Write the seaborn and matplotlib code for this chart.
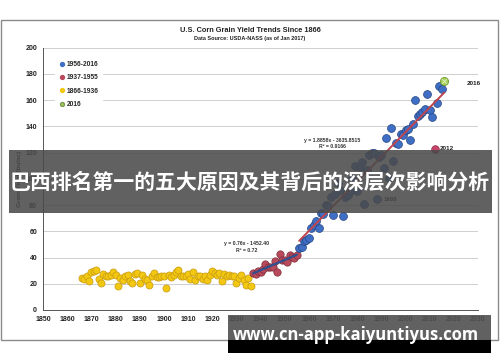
import numpy as np
import pandas as pd
import seaborn as sns
import matplotlib.pyplot as plt
from matplotlib.lines import Line2D
from matplotlib.patches import Rectangle

# yields (bu/ac)
years_early = list(range(1866, 1937))
yield_early = [24.3, 23.6, 26.2, 21.8, 29.3, 29.8, 30.2, 23.8, 20.9, 27.7,
               26.3, 26.1, 26.5, 28.9, 26.8, 18.6, 24.6, 22.7, 25.8, 26.5,
               22.0, 20.3, 27.1, 27.9, 20.7, 27.0, 23.5, 22.5, 19.4, 26.2,
               28.2, 25.3, 25.2, 25.9, 25.9, 16.7, 26.8, 25.0, 26.8, 28.6,
               30.3, 25.9, 26.2, 25.9, 27.7, 23.9, 29.2, 23.1, 25.8, 25.6,
               24.0, 26.3, 23.1, 27.0, 29.8, 28.3, 27.0, 28.3, 22.2, 27.4,
               25.6, 26.8, 26.3, 25.7, 20.5, 24.5, 26.5, 22.6, 18.7, 24.2,
               18.1]
years_mid = list(range(1937, 1956))
yield_mid = [28.2, 27.7, 29.4, 28.9, 31.2, 35.4, 32.6, 33.0, 33.1, 37.2,
             28.6, 43.0, 38.2, 38.2, 36.9, 41.8, 40.7, 39.4, 42.0]
years_late = list(range(1956, 2017))
yield_late = [47.4, 48.3, 52.8, 53.1, 54.7, 62.4, 64.7, 67.9, 62.9, 74.1,
              73.1, 80.1, 79.5, 85.9, 72.4, 88.1, 97.0, 91.3, 71.9, 86.4,
              88.0, 90.8, 101.0, 109.5, 91.0, 108.9, 113.2, 81.1, 106.7, 118.0,
              119.4, 119.8, 84.6, 116.3, 118.5, 108.6, 131.5, 100.7, 138.6, 113.5,
              127.1, 126.7, 134.4, 133.8, 136.9, 138.2, 129.3, 142.2, 160.3, 147.9,
              149.1, 150.7, 153.3, 164.4, 152.6, 146.8, 123.1, 158.1, 171.0, 168.4,
              174.6]
legend_labels = ['1956-2016', '1937-1955', '1866-1936', '2016']
x_ticks = list(range(1850, 2031, 10))
y_ticks = list(range(0, 201, 20))

blue = '#3f6fc4'
red = '#b84a5c'
yellow = '#f2c813'
green = '#a6cf5a'

sns.set_style('white')
plt.rcParams['font.family'] = ['Liberation Sans', 'DejaVu Sans']

fig = plt.figure(figsize=(5, 3.62), dpi=100)
ax = fig.add_axes([43 / 500, 52 / 362, 435 / 500, 262.3 / 362])

df_early = pd.DataFrame({'year': years_early, 'yield': yield_early})
df_mid = pd.DataFrame({'year': years_mid, 'yield': yield_mid})
df_late = pd.DataFrame({'year': years_late, 'yield': yield_late})

sns.scatterplot(x='year', y='yield', data=df_early, color=yellow, s=26,
                edgecolor='#c99a10', linewidth=0.5, zorder=3, ax=ax)
sns.scatterplot(x='year', y='yield', data=df_mid, color=red, s=28,
                edgecolor='#7e2f3c', linewidth=0.5, zorder=3, ax=ax)
late_main = df_late[df_late.year != 2012]
sns.scatterplot(x='year', y='yield', data=late_main[late_main.year != 2016], color=blue, s=32,
                edgecolor='#23437f', linewidth=0.5, zorder=3, ax=ax)
sns.scatterplot(x='year', y='yield', data=df_late[df_late.year == 2012], color='#c8446a', s=30,
                edgecolor='#8a2a48', linewidth=0.5, zorder=3, ax=ax)
sns.scatterplot(x='year', y='yield', data=df_late[df_late.year == 2016], color=green, s=34,
                edgecolor='#6f9a2c', linewidth=0.6, zorder=4, ax=ax)
ax.scatter([2016], [yield_late[-1]], marker='x', color='#e8f5c8', s=12, linewidth=0.6, zorder=5)

# trend lines
m1, b1 = np.polyfit(years_mid, yield_mid, 1)
xm = np.array([years_mid[0], years_mid[-1]])
ax.plot(xm, m1 * xm + b1, color='#2f4f8f', lw=1.6, zorder=4)
m2, b2 = np.polyfit(years_late, yield_late, 1)
xl = np.array([years_late[0], years_late[-1]])
ax.plot(xl, m2 * xl + b2, color='#c0454f', lw=1.4, zorder=4)

ax.text(1969.8, 129.5, 'y = 1.8858x - 3635.8515', fontsize=3.7, fontweight='bold',
        ha='center', va='center', color='#333333')
ax.text(1969.8, 124.8, 'R² = 0.9166', fontsize=3.7, fontweight='bold',
        ha='center', va='center', color='#333333')
ax.text(1934.3, 50.9, 'y = 0.76x - 1452.40', fontsize=3.7, fontweight='bold',
        ha='center', va='center', color='#333333')
ax.text(1934.3, 45.2, 'R² = 0.72', fontsize=3.7, fontweight='bold',
        ha='center', va='center', color='#333333')
ax.text(2025.5, 172.5, '2016', fontsize=4.6, fontweight='bold', va='center', color='#222222')
ax.text(2014.2, 123.3, '2012', fontsize=4.6, fontweight='bold', va='center', color='#222222')
ax.text(1990.8, 84.4, '1988', fontsize=4.3, fontweight='bold', va='center', color='#222222')

ax.set_xlim(1850, 2030)
ax.set_ylim(0, 200)
ax.set_xticks(x_ticks)
ax.set_yticks(y_ticks)
ax.set_xticks(np.arange(1850, 2031, 2), minor=True)
ax.set_yticks(np.arange(0, 201, 4), minor=True)
ax.tick_params(axis='both', which='major', labelsize=5, length=2.5, width=0.6,
               direction='inout', colors='#444444', labelcolor='#222222', pad=3)
ax.tick_params(axis='both', which='minor', length=1.5, width=0.4, direction='inout',
               colors='#666666')
for lab in ax.get_xticklabels() + ax.get_yticklabels():
    lab.set_fontweight('bold')
ax.yaxis.grid(True, color='#cfcfcf', lw=0.7)
ax.set_axisbelow(True)
for side in ['top', 'right']:
    ax.spines[side].set_visible(False)
for side in ['left', 'bottom']:
    ax.spines[side].set_color('#555555')
    ax.spines[side].set_linewidth(0.7)
ax.set_xlabel('')
ax.set_ylabel('')

handles = [Line2D([], [], marker='o', ls='', color=blue, markersize=2.8, label=legend_labels[0]),
           Line2D([], [], marker='o', ls='', color=red, markersize=2.8, label=legend_labels[1]),
           Line2D([], [], marker='o', ls='', color=yellow, markersize=2.8, label=legend_labels[2]),
           Line2D([], [], marker='o', ls='', color=green, markeredgecolor='#7a9a50',
                  markersize=2.8, label=legend_labels[3])]
leg = ax.legend(handles=handles, loc='upper left', bbox_to_anchor=(0.02, 0.975),
                frameon=True, edgecolor='white', facecolor='white', framealpha=1,
                prop={'size': 4.8, 'weight': 'bold'}, handletextpad=0.0,
                labelspacing=0.95, borderpad=0.5, handlelength=1.2)

fig.text(0.5, 0.916, 'U.S. Corn Grain Yield Trends Since 1866', fontsize=5.3,
         fontweight='bold', ha='center', va='center', color='#222222')
fig.text(0.5, 0.893, 'Data Source: USDA-NASS (as of Jan 2017)', fontsize=4.0,
         fontweight='bold', ha='center', va='center', color='#222222')
fig.text(0.038, 0.505, 'Grain Yield (bu/ac)', fontsize=4.6, fontweight='bold',
         rotation=90, ha='center', va='center', color='#222222')

# outer frame of the screenshot
fig.patches.append(Rectangle((0.002, 22 / 362), 0.993, 320 / 362, transform=fig.transFigure,
                             fill=False, edgecolor='#8a8a8a', lw=1.0, zorder=1))

# overlay bands
fig.patches.append(Rectangle((9 / 500, 149 / 362), 483 / 500, 63 / 362, transform=fig.transFigure,
                             facecolor='#4a4a4a', alpha=0.87, lw=0, zorder=10))
fig.patches.append(Rectangle((228 / 500, 21.5 / 362), 263 / 500, 25.5 / 362, transform=fig.transFigure,
                             facecolor='#505050', alpha=0.9, lw=0, zorder=10))
fig.patches.append(Rectangle((228 / 500, 9.3 / 362), 263 / 500, 12.3 / 362, transform=fig.transFigure,
                             facecolor='black', lw=0, zorder=10))

fig.text(0.5, 0.497, '巴西排名第一的五大原因及其背后的深层次影响分析', fontsize=15,
         fontweight='bold', ha='center', va='center', color='white',
         family=['Noto Sans CJK SC', 'DejaVu Sans'], zorder=11)
fig.text(356 / 500, 0.074, 'www.cn-app-kaiyuntiyus.com', fontsize=12,
         fontweight='bold', ha='center', va='center', color='white',
         family=['Open Sans', 'DejaVu Sans'], zorder=11)

fig.savefig('out.png', dpi=100)
